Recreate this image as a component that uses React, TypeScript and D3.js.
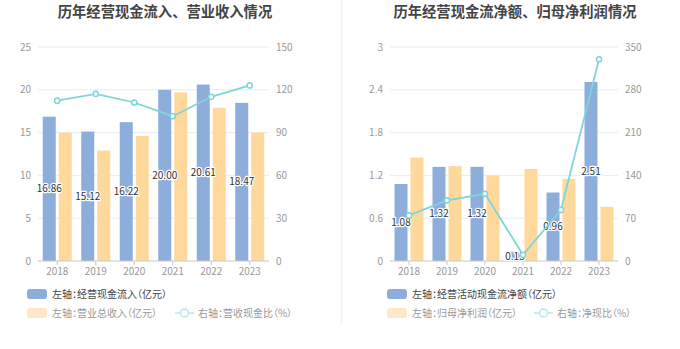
import React from "react";
import * as d3 from "d3";

const years = ["2018", "2019", "2020", "2021", "2022", "2023"];

// Left chart
const cashInflow = [16.86, 15.12, 16.22, 20.0, 20.61, 18.47];
const totalRevenue = [15.0, 12.9, 14.6, 19.7, 17.9, 15.0];
const cashRevenueRatio = [112.4, 117.2, 111.1, 101.5, 115.1, 123.1];
const leftTicksL = [0, 5, 10, 15, 20, 25];
const leftTicksR = [0, 30, 60, 90, 120, 150];

// Right chart
const netCashFlow = [1.08, 1.32, 1.32, 0.13, 0.96, 2.51];
const netProfit = [1.45, 1.33, 1.2, 1.29, 1.15, 0.76];
const netCashRatio = [74.5, 99.2, 110.0, 10.1, 83.5, 330.0];
const rightTicksL = [0, 0.6, 1.2, 1.8, 2.4, 3];
const rightTicksR = [0, 70, 140, 210, 280, 350];

const BLUE = "#8DADDB";
const YELLOW = "#FFD99B";
const LINE = "#7FD5DA";
const FONT = "'Noto Sans CJK SC', 'Noto Sans', sans-serif";

type PanelProps = {
  title: string;
  titleX: number;
  x0: number;
  x1: number;
  bars1: number[];
  bars2: number[];
  line: number[];
  ticksL: number[];
  ticksR: number[];
  legend1: string;
  legend2: string;
  legendX: number;
};

function Panel(p: PanelProps) {
  const top = 47;
  const bottom = 261;
  const x = d3.scaleBand<string>().domain(years).range([p.x0, p.x1]);
  const bw = x.bandwidth();
  const step = 16;
  const po = (bw / step - 2 + 3 / step) / 2;
  const xs = d3
    .scaleBand<string>()
    .domain(["a", "b"])
    .range([0, bw])
    .paddingInner(3 / step)
    .paddingOuter(po);
  const yL = d3
    .scaleLinear()
    .domain([0, p.ticksL[p.ticksL.length - 1]])
    .range([bottom, top]);
  const yR = d3
    .scaleLinear()
    .domain([0, p.ticksR[p.ticksR.length - 1]])
    .range([bottom, top]);
  const lineGen = d3
    .line<number>()
    .x((_, i) => (x(years[i]) as number) + bw / 2)
    .y((d) => yR(d));

  const lx = p.legendX;
  return (
    <g fontFamily={FONT}>
      <text
        x={p.titleX}
        y={17}
        textAnchor="middle"
        fontSize={14.3}
        fontWeight="bold"
        fill="#444"
      >
        {p.title}
      </text>
      {p.ticksL.map((t, i) =>
        i === 0 ? null : (
          <line
            key={"g" + i}
            x1={p.x0}
            x2={p.x1}
            y1={yL(t)}
            y2={yL(t)}
            stroke="#E8ECF6"
            strokeWidth={1}
          />
        )
      )}
      {p.ticksL.map((t, i) => (
        <text
          key={"l" + i}
          x={p.x0 - 7}
          y={yL(t)}
          dy="0.35em"
          textAnchor="end"
          fontSize={10}
          fill="#999"
        >
          {String(t)}
        </text>
      ))}
      {p.ticksR.map((t, i) => (
        <text
          key={"r" + i}
          x={p.x1 + 7}
          y={yR(t)}
          dy="0.35em"
          textAnchor="start"
          fontSize={10}
          fill="#999"
        >
          {t}
        </text>
      ))}
      {years.map((yr, i) => {
        const bx = x(yr) as number;
        return (
          <g key={"b" + i}>
            <rect
              x={bx + (xs("a") as number)}
              y={yL(p.bars1[i])}
              width={xs.bandwidth()}
              height={bottom - yL(p.bars1[i])}
              fill={BLUE}
            />
            <rect
              x={bx + (xs("b") as number)}
              y={yL(p.bars2[i])}
              width={xs.bandwidth()}
              height={bottom - yL(p.bars2[i])}
              fill={YELLOW}
            />
          </g>
        );
      })}
      <line x1={p.x0} x2={p.x1} y1={bottom} y2={bottom} stroke="#C8C8C8" strokeWidth={1} />
      {years.map((yr, i) => {
        const cx = (x(yr) as number) + bw / 2;
        return (
          <g key={"t" + i}>
            <line x1={cx} x2={cx} y1={bottom} y2={bottom + 4} stroke="#C8C8C8" />
            <text x={cx} y={bottom + 14} textAnchor="middle" fontSize={10} fill="#999">
              {yr}
            </text>
          </g>
        );
      })}
      {years.map((yr, i) => {
        const cx = (x(yr) as number) + (xs("a") as number) + xs.bandwidth() / 2;
        const cy = (yL(p.bars1[i]) + bottom) / 2;
        return (
          <text
            key={"v" + i}
            x={cx}
            y={cy}
            dy="0.35em"
            textAnchor="middle"
            fontSize={10}
            fill="#333"
            stroke="#fff"
            strokeWidth={2.5}
            paintOrder="stroke"
            strokeLinejoin="round"
          >
            {p.bars1[i].toFixed(2)}
          </text>
        );
      })}
      <path d={lineGen(p.line) || ""} fill="none" stroke={LINE} strokeWidth={1.8} />
      {p.line.map((v, i) => (
        <circle
          key={"c" + i}
          cx={(x(years[i]) as number) + bw / 2}
          cy={yR(v)}
          r={2.6}
          fill="#fff"
          stroke={LINE}
          strokeWidth={1.5}
        />
      ))}
      <g style={{ fontFeatureSettings: "'palt'" }} fontSize={10}>
        <rect x={lx} y={289} width={20} height={10} rx={3} fill={BLUE} />
        <text x={lx + 25} y={294} dy="0.35em" fill="#444">
          {p.legend1}
        </text>
        <rect x={lx} y={308} width={20} height={10} rx={3} fill="#FFE8C6" />
        <text x={lx + 25} y={313} dy="0.35em" fill="#999">
          {p.legend2}
        </text>
      </g>
    </g>
  );
}

function LineLegend({ x, text }: { x: number; text: string }) {
  return (
    <g fontFamily={FONT} style={{ fontFeatureSettings: "'palt'" }} fontSize={10}>
      <line x1={x} x2={x + 19} y1={313} y2={313} stroke="#B5E7EA" strokeWidth={1.5} />
      <circle cx={x + 9.5} cy={313} r={4} fill="#fff" stroke="#B5E7EA" strokeWidth={1.5} />
      <text x={x + 23} y={313} dy="0.35em" fill="#999">
        {text}
      </text>
    </g>
  );
}

export default function App() {
  return (
    <svg width={680} height={349} style={{ display: "block", position: "absolute", left: 0, top: 0 }}>
      <rect width={680} height={349} fill="#fff" />
      <line x1={341.5} x2={341.5} y1={0} y2={325} stroke="#F2F2F2" strokeWidth={1.5} />
      <Panel
        title="历年经营现金流入、营业收入情况"
        titleX={165}
        x0={38}
        x1={269}
        bars1={cashInflow}
        bars2={totalRevenue}
        line={cashRevenueRatio}
        ticksL={leftTicksL}
        ticksR={leftTicksR}
        legend1="左轴：经营现金流入（亿元）"
        legend2="左轴：营业总收入（亿元）"
        legendX={27}
      />
      <LineLegend x={175} text="右轴：营收现金比（%）" />
      <Panel
        title="历年经营现金流净额、归母净利润情况"
        titleX={515}
        x0={390}
        x1={618}
        bars1={netCashFlow}
        bars2={netProfit}
        line={netCashRatio}
        ticksL={rightTicksL}
        ticksR={rightTicksR}
        legend1="左轴：经营活动现金流净额（亿元）"
        legend2="左轴：归母净利润（亿元）"
        legendX={387}
      />
      <LineLegend x={534} text="右轴：净现比（%）" />
    </svg>
  );
}
